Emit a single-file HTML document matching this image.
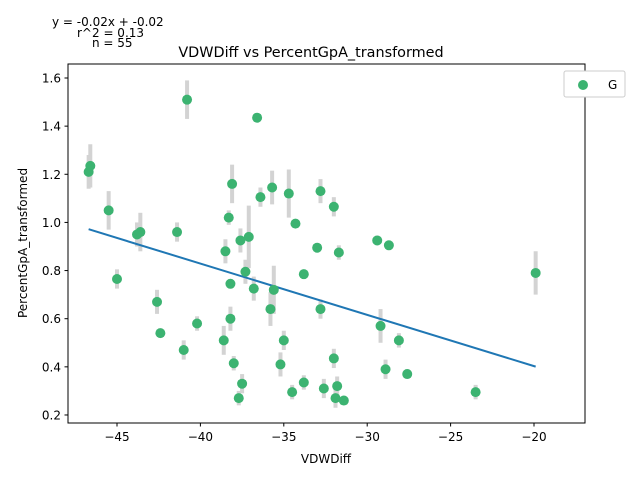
<!DOCTYPE html>
<html><head><meta charset="utf-8"><style>
body{margin:0;background:#fff;font-family:"Liberation Sans","DejaVu Sans",sans-serif}
svg text{font-family:"DejaVu Sans","Liberation Sans",sans-serif;fill:#000}
</style></head><body>
<svg id="chart" width="640" height="480" xmlns="http://www.w3.org/2000/svg">
<rect width="640" height="480" fill="#fff"/>
<g id="errs"></g>
<g id="fit"></g>
<g id="pts"></g>
<rect x="68" y="64" width="517" height="359" fill="none" stroke="#000" stroke-width="1"/>
<g id="xt"></g>
<g id="yt"></g>
<text x="326" y="463" font-size="12" text-anchor="middle">VDWDiff</text>
<text x="27" y="243" font-size="12" text-anchor="middle" transform="rotate(-90 27 243)">PercentGpA_transformed</text>
<text x="311" y="57" font-size="14.4" text-anchor="middle">VDWDiff vs PercentGpA_transformed</text>
<text x="52" y="26" font-size="12">y = -0.02x + -0.02</text>
<text x="77" y="37" font-size="12">r^2 = 0.13</text>
<text x="92" y="47" font-size="12">n = 55</text>
<g>
<rect x="564" y="71" width="61" height="26" rx="2" fill="#fff" stroke="#ccc"/>
<circle cx="583" cy="85" r="5" fill="#3cb371"/>
<text x="608" y="89" font-size="12">G</text>
</g>
</svg>
<script>
const xs=[-46.7,-46.6,-45.5,-45.0,-43.8,-43.6,-42.6,-42.4,-41.4,-41.0,-40.8,-40.2,-38.6,-38.5,-38.3,-38.2,-38.2,-38.1,-38.0,-37.7,-37.6,-37.5,-37.3,-37.1,-36.8,-36.6,-36.4,-35.8,-35.7,-35.6,-35.2,-35.0,-34.7,-34.5,-34.3,-33.8,-33.8,-33.0,-32.8,-32.8,-32.6,-32.0,-32.0,-31.9,-31.8,-31.7,-31.4,-29.4,-29.2,-28.9,-28.7,-28.1,-27.6,-23.5,-19.9];
const ys=[1.21,1.235,1.05,0.765,0.95,0.96,0.67,0.54,0.96,0.47,1.51,0.58,0.51,0.88,1.02,0.60,0.745,1.16,0.415,0.27,0.925,0.33,0.795,0.94,0.725,1.435,1.105,0.64,1.145,0.72,0.41,0.51,1.12,0.295,0.995,0.785,0.335,0.895,1.13,0.64,0.31,1.065,0.435,0.27,0.32,0.875,0.26,0.925,0.57,0.39,0.905,0.51,0.37,0.295,0.79];
const errs=[0.07,0.09,0.08,0.04,0.05,0.08,0.05,0.02,0.04,0.04,0.08,0.03,0.06,0.05,0.03,0.05,0.02,0.08,0.03,0.03,0.05,0.04,0.05,0.13,0.05,0.01,0.04,0.07,0.07,0.10,0.05,0.04,0.10,0.03,0.01,0.01,0.03,0.02,0.05,0.04,0.04,0.04,0.04,0.04,0.04,0.03,0.01,0.02,0.07,0.04,0.02,0.03,0.02,0.03,0.09];
const xTicks=[-45,-40,-35,-30,-25,-20];
const yTicks=[0.2,0.4,0.6,0.8,1.0,1.2,1.4,1.6];
const slope=-0.0213, intercept=-0.023;
const X=v=>117+(v+45)*16.68;
const Y=v=>78+(1.6-v)*240.7;
const NS='http://www.w3.org/2000/svg';
function mk(t,a,p){const e=document.createElementNS(NS,t);for(const k in a)e.setAttribute(k,a[k]);p.appendChild(e);return e;}
const eg=document.getElementById('errs'),pg=document.getElementById('pts'),fg=document.getElementById('fit');
xs.forEach((x,i)=>{
 const l=mk('line',{x1:X(x),x2:X(x),y1:Y(ys[i]-errs[i]),y2:Y(ys[i]+errs[i]),stroke:'#d3d3d3','stroke-width':4},eg);
 
 
});
const xmin=Math.min(...xs),xmax=Math.max(...xs);
const fl=mk('line',{x1:X(xmin),y1:Y(slope*xmin+intercept),x2:X(xmax),y2:Y(slope*xmax+intercept),stroke:'#1f77b4','stroke-width':2},fg);


xs.forEach((x,i)=>{
 const c=mk('circle',{cx:X(x),cy:Y(ys[i]),r:5,fill:'#3cb371'},pg);
 
 
});
const xt=document.getElementById('xt'),yt=document.getElementById('yt');
xTicks.forEach(t=>{
 mk('line',{x1:X(t),x2:X(t),y1:423,y2:426.5,stroke:'#000'},xt);
 const tx=mk('text',{x:X(t),y:441,'font-size':12,'text-anchor':'middle'},xt);
 tx.textContent=String(t).replace('-','\u2212');
 
 
});
yTicks.forEach(t=>{
 mk('line',{x1:64.5,x2:68,y1:Y(t),y2:Y(t),stroke:'#000'},yt);
 const tx=mk('text',{x:61,y:Y(t)+4.5,'font-size':12,'text-anchor':'end'},yt);
 tx.textContent=t.toFixed(1);
 
 
});
</script>
</body></html>
